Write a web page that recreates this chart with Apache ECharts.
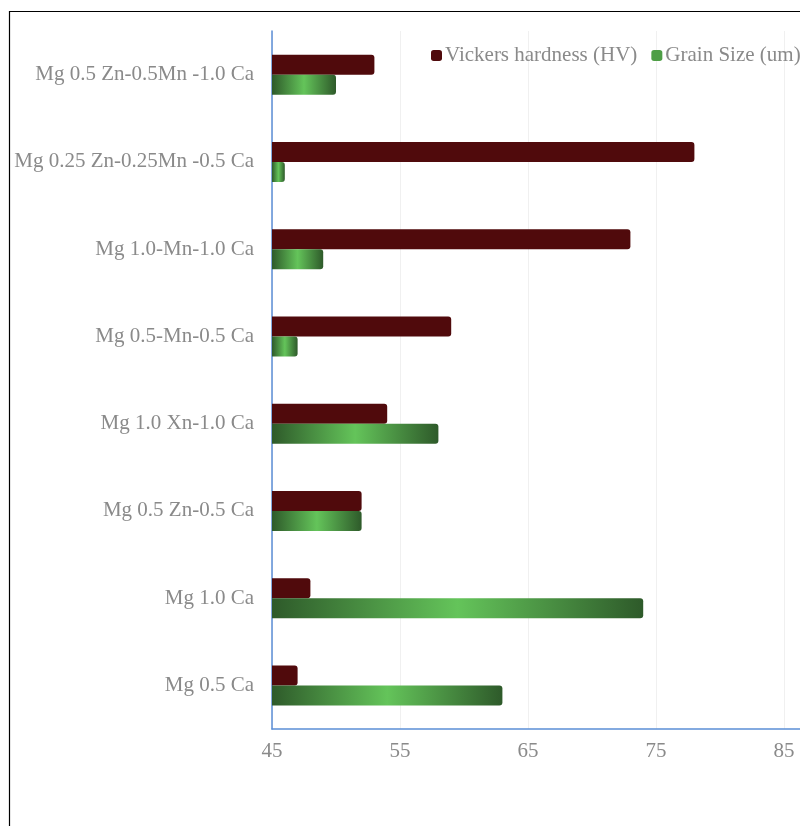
<!DOCTYPE html>
<html>
<head>
<meta charset="utf-8">
<script src="https://cdn.jsdelivr.net/npm/echarts@6/dist/echarts.min.js"></script>
<style>
  html, body { margin: 0; padding: 0; background: #ffffff; }
  #chart { width: 800px; height: 826px; }
</style>
</head>
<body>
<div id="chart"></div>
<script>
// Alloy compositions, listed top to bottom
const alloys = [
  'Mg 0.5 Zn-0.5Mn -1.0 Ca',
  'Mg 0.25 Zn-0.25Mn -0.5 Ca',
  'Mg 1.0-Mn-1.0 Ca',
  'Mg 0.5-Mn-0.5 Ca',
  'Mg 1.0 Xn-1.0 Ca',
  'Mg 0.5 Zn-0.5 Ca',
  'Mg 1.0 Ca',
  'Mg 0.5 Ca'
];
const hardnessHV = [53, 78, 73, 59, 54, 52, 48, 47];
const grainSizeUm = [50, 46, 49, 47, 58, 52, 74, 63];
const xTicks = [45, 55, 65, 75, 85];

const serif = '"Liberation Serif", "DejaVu Serif", serif';
const labelGray = '#8a8a8a';
const axisBlue = '#5b8ed6';
const hvColor = '#500a0c';

// cylinder-style shading for the grain size bars
const greenBar = new echarts.graphic.LinearGradient(0, 0, 1, 0, [
  { offset: 0, color: '#2e5a2a' },
  { offset: 0.5, color: '#64c45a' },
  { offset: 1, color: '#2e5a2a' }
]);

const chart = echarts.init(document.getElementById('chart'), null, { renderer: 'canvas' });

chart.setOption({
  animation: false,
  backgroundColor: '#ffffff',
  grid: { left: 272, right: 0, top: 31, bottom: 97, containLabel: false },
  legend: {
    orient: 'horizontal',
    left: 426,
    top: 40,
    width: 600,
    itemWidth: 11,
    itemHeight: 11,
    itemGap: 14,
    icon: 'roundRect',
    textStyle: { fontFamily: serif, fontSize: 21, color: labelGray, padding: [0, 0, 0, -2] },
    data: [
      { name: 'Vickers hardness (HV)', itemStyle: { color: hvColor } },
      { name: 'Grain Size (um)', itemStyle: { color: '#4e9e46' } }
    ]
  },
  xAxis: {
    type: 'value',
    min: xTicks[0],
    max: 86.25,
    interval: 10,
    axisLine: { show: true, lineStyle: { color: axisBlue, width: 1.5 } },
    axisTick: { show: false },
    axisLabel: {
      fontFamily: serif, fontSize: 21, color: labelGray, margin: 12,
      formatter: function (v) { return xTicks.indexOf(v) >= 0 ? String(v) : ''; },
      showMaxLabel: false
    },
    splitLine: { show: true, lineStyle: { color: '#f0f0f0', width: 1 } }
  },
  yAxis: {
    type: 'category',
    data: alloys,
    inverse: true,
    axisLine: { show: true, lineStyle: { color: axisBlue, width: 1.5 } },
    axisTick: { show: false },
    axisLabel: { fontFamily: serif, fontSize: 21, color: labelGray, margin: 18 },
    splitLine: { show: false }
  },
  series: [
    {
      name: 'Vickers hardness (HV)',
      type: 'bar',
      data: hardnessHV,
      barWidth: 20,
      barGap: '0%',
      itemStyle: { color: hvColor, borderRadius: [0, 3, 3, 0] }
    },
    {
      name: 'Grain Size (um)',
      type: 'bar',
      data: grainSizeUm,
      barWidth: 20,
      barGap: '0%',
      itemStyle: { color: greenBar, borderRadius: [0, 3, 3, 0] }
    }
  ],
  graphic: [
    {
      type: 'polyline',
      shape: { points: [[9.5, 826], [9.5, 11.5], [800, 11.5]] },
      style: { stroke: '#000000', lineWidth: 1.2, fill: null },
      silent: true
    }
  ]
});
</script>
</body>
</html>
